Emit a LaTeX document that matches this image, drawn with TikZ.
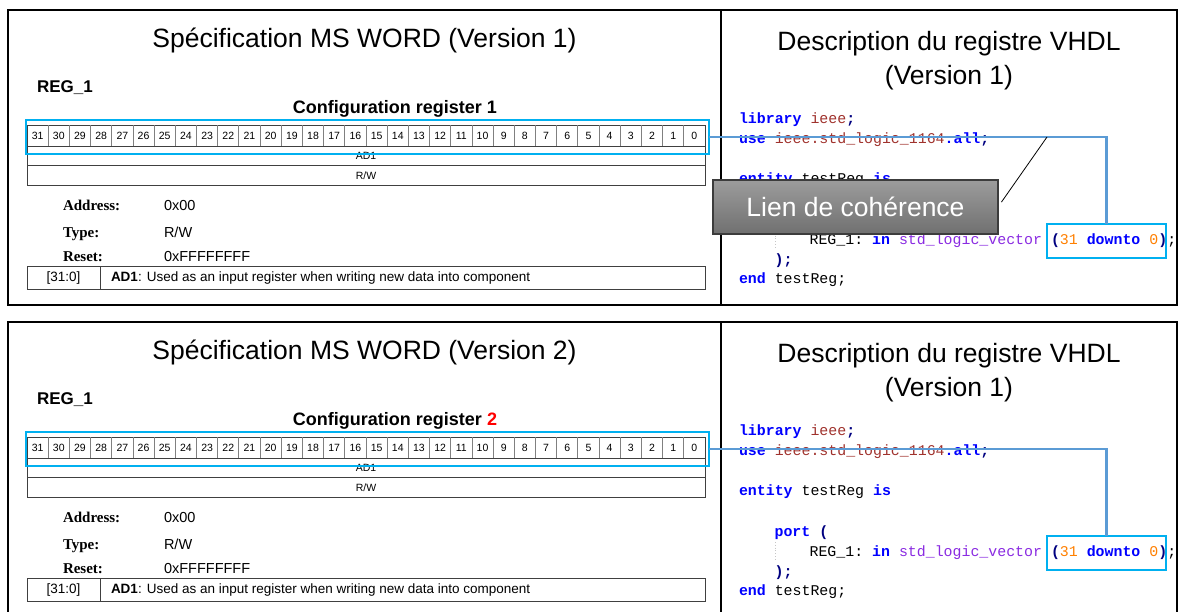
\documentclass[tikz,border=0pt]{standalone}
\usepackage{fontspec}
\setmainfont{Liberation Sans}
\setmonofont{Liberation Mono}
\newfontfamily\tnr{Liberation Serif}
\definecolor{hlcyan}{HTML}{00B0F0}
\definecolor{linkblue}{HTML}{5B9BD5}
\definecolor{kwblue}{HTML}{0000FF}
\definecolor{libred}{HTML}{A0322D}
\definecolor{typpurple}{HTML}{8A2BE2}
\definecolor{numorange}{HTML}{FF8000}
\definecolor{opnavy}{HTML}{000080}
\definecolor{calltop}{HTML}{9C9C9C}
\definecolor{callbot}{HTML}{707070}
\definecolor{callborder}{HTML}{3C3C3C}
\newcommand\fs[1]{\fontsize{#1}{#1}\selectfont}
\newcommand\kw[1]{\textcolor{kwblue}{\bfseries #1}}
\newcommand\lib[1]{\textcolor{libred}{#1}}
\newcommand\typ[1]{\textcolor{typpurple}{#1}}
\newcommand\num[1]{\textcolor{numorange}{#1}}
\newcommand\op[1]{\textcolor{opnavy}{\bfseries #1}}
\tikzset{
  every node/.style={inner sep=0pt, outer sep=0pt},
  frame/.style={line width=2.2pt, draw=black},
  hlbox/.style={draw=hlcyan, line width=2pt, inner sep=0pt, anchor=north west},
  link/.style={draw=linkblue, line width=2.5pt},
  title/.style={anchor=base, font=\fs{26.5}},
  code/.style={anchor=base west, font=\ttfamily\fs{14.9}},
  bitnum/.style={font=\fs{10.5}},
  lbl/.style={anchor=base west, font=\tnr\bfseries\fs{15}},
  val/.style={anchor=base west, font=\fs{14.5}},
  grid/.style={draw=black!75, line width=0.8pt},
  cellsep/.style={draw=gray, line width=0.8pt},
  callbox/.style={draw=callborder, line width=1.2pt, top color=calltop, bottom color=callbot,
     minimum width=285pt, minimum height=54pt, text=white, font=\fs{26.5}},
  pointer/.style={draw=black, line width=0.8pt},
  guide/.style={draw=gray!45, line width=0.8pt, dotted}
}
% #1 suffix, #2 version, #3 config number, #4 shift, #5 extra code line (port)
\newcommand\regpanel[5]{%
\begin{scope}[yshift=#4]
  \draw[frame] (8,10) rectangle (1177,305);
  \draw[frame] (721,10) -- (721,305);
  \node[title] (t#1) at (364.5,47) {Spécification MS WORD (Version #2)};
  \node[title] (d#1) at (949,50) {Description du registre VHDL};
  \node[title] (v#1) at (949,84) {(Version 1)};
  \node[anchor=base west, font=\bfseries\fs{17}] (r#1) at (37,92) {REG\_1};
  \node[anchor=base, font=\bfseries\fs{18}] (c#1) at (395,113) {Configuration register #3};
  % bit table
  \draw[grid] (27,125) rectangle (705,185);
  \draw[grid] (27,146) -- (705,146);
  \draw[grid] (27,165) -- (705,165);
  \foreach \i in {1,...,31} {\draw[cellsep] ({27+\i*21.1875},125) -- ({27+\i*21.1875},146);}
  \foreach \i [evaluate=\i as \n using int(31-\i)] in {0,...,31}
    {\node[bitnum] (b#1-\i) at ({27+(\i+0.5)*21.1875},135.5) {\n};}
  \node[bitnum] (a#1) at (366,155.5) {AD1};
  \node[bitnum] (w#1) at (366,175.5) {R/W};
  % fields
  \node[lbl] (la#1) at (63,210) {Address:};
  \node[lbl] (lt#1) at (63,237) {Type:};
  \node[lbl] (lr#1) at (63,261) {Reset:};
  \node[val] (va#1) at (164,210) {0x00};
  \node[val] (vt#1) at (164,237) {R/W};
  \node[val] (vr#1) at (164,261) {0xFFFFFFFF};
  % description table
  \draw[grid] (27,266) rectangle (705,289);
  \draw[grid] (100,266) -- (100,289);
  \node[font=\fs{13.5}] (dr#1) at (63.5,278) {[31:0]};
  \node[anchor=west, font=\fs{13.5}] (dt#1) at (111,278) {\textbf{AD1}: Used as an input register when writing new data into component};
  % VHDL code
  \node[code] (k1#1) at (739,123) {\kw{library} \lib{ieee}\op{;}};
  \node[code] (k2#1) at (739,143) {\kw{use} \lib{ieee.std\_logic\_1164}\kw{.all}\op{;}};
  \node[code] (k3#1) at (739,183) {\kw{entity} testReg \kw{is}};
  #5
  \node[code] (k5#1) at (809.6,244) {REG\_1: \kw{in} \typ{std\_logic\_vector} \op{(}\num{31} \kw{downto} \num{0}\op{)};};
  \node[code] (k6#1) at (774.6,264) {\op{);}};
  \node[code] (k7#1) at (739,283) {\kw{end} testReg;};
  \draw[guide] (775,230) -- (775,248);
  % highlights and link
  \node[hlbox, minimum width=683pt, minimum height=34pt] (hl#1) at (26,120) {};
  \node[hlbox, minimum width=119pt, minimum height=34pt] (sm#1) at (1047,224) {};
  \draw[link] (hl#1.east) -| (sm#1.north);
\end{scope}}
\begin{document}
\begin{tikzpicture}[x=1pt,y=-1pt]
  \useasboundingbox[fill=white] (0,0) rectangle (1181,611);
  \regpanel{u}{1}{1}{0pt}{}
  \regpanel{l}{2}{\textcolor{red}{2}}{-312pt}{\node[code] (k4l) at (774.6,224) {\kw{port} \op{(}};}
  \node[callbox] (lien) at (855.5,207) {Lien de cohérence};
  \coordinate (tip) at (1047,137);
  \draw[pointer, shorten <=6pt] (lien.east) -- (tip);
\end{tikzpicture}
\end{document}
